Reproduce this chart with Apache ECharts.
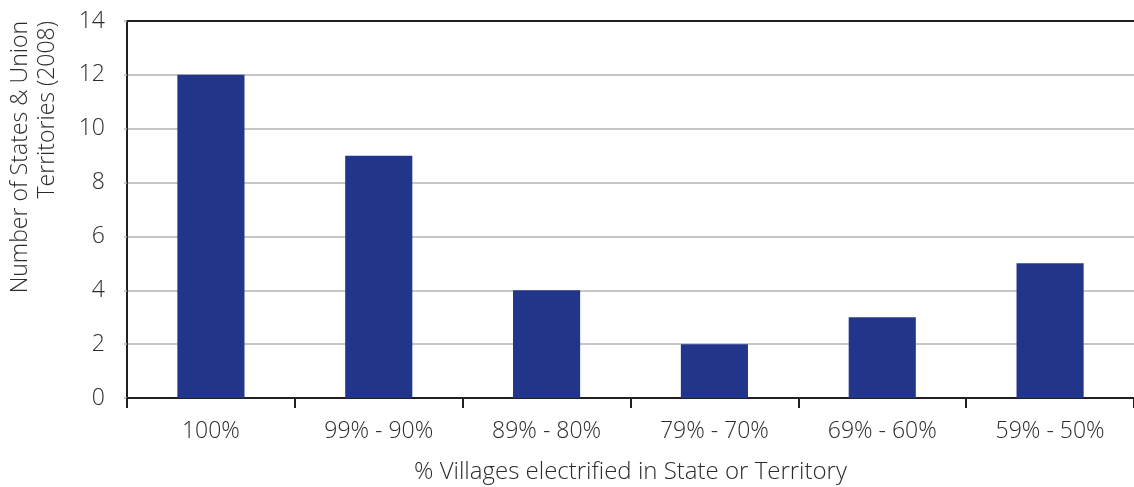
<!DOCTYPE html>
<html><head><meta charset="utf-8">
<script src="https://cdn.jsdelivr.net/npm/echarts@6/dist/echarts.min.js"></script>
<style>html,body{margin:0;padding:0;background:#fff}#c{width:1134px;height:487px}</style>
</head><body><div id="c"></div>
<script>
const categories = ['100%', '99% - 90%', '89% - 80%', '79% - 70%', '69% - 60%', '59% - 50%'];
const values = [12, 9, 4, 2, 3, 5];
const yTitleLines = ['Number of States & Union', 'Territories (2008)'];
const xTitle = '% Villages electrified in State or Territory';

const font = '"Open Sans", "Noto Sans", sans-serif';
const txt = '#2b2b2b';
const chart = echarts.init(document.getElementById('c'));
chart.setOption({
  animation: false,
  grid: { left: 127, right: 0, top: 21, bottom: 89, containLabel: false, outerBoundsMode: 'none' },
  xAxis: [{
    type: 'category', data: categories, position: 'bottom',
    axisLine: { lineStyle: { color: '#231f20', width: 2 } },
    axisTick: { show: true, length: 10, lineStyle: { color: '#231f20', width: 2 } },
    axisLabel: { color: txt, fontSize: 23, fontWeight: 300, fontFamily: font, margin: 22 },
    name: xTitle, nameLocation: 'middle', nameGap: 62,
    nameTextStyle: { color: txt, fontSize: 24, fontWeight: 300, fontFamily: font }
  }, {
    type: 'category', data: categories, position: 'top',
    axisLine: { lineStyle: { color: '#231f20', width: 2 } },
    axisTick: { show: false }, axisLabel: { show: false }
  }],
  yAxis: {
    type: 'value', min: 0, max: 14, interval: 2,
    axisLine: { show: true, lineStyle: { color: '#231f20', width: 2 } },
    axisTick: { show: true, length: 3, lineStyle: { color: '#b3b3b3', width: 1.5 } },
    axisLabel: { color: txt, fontSize: 23, fontWeight: 300, fontFamily: font, margin: 22 },
    splitLine: { lineStyle: { color: '#b3b3b3', width: 1.5 } }
  },
  series: [{
    type: 'bar', data: values, barWidth: '40%', xAxisIndex: 0,
    itemStyle: { color: '#21368a' }
  }],
  graphic: [
    { type: 'text', x: 20, y: 21, rotation: Math.PI / 2,
      style: { text: yTitleLines[0], font: '300 23px ' + font, fill: txt, align: 'right', verticalAlign: 'middle' } },
    { type: 'text', x: 47, y: 21, rotation: Math.PI / 2,
      style: { text: yTitleLines[1], font: '300 23px ' + font, fill: txt, align: 'right', verticalAlign: 'middle' } }
  ]
});
</script></body></html>
